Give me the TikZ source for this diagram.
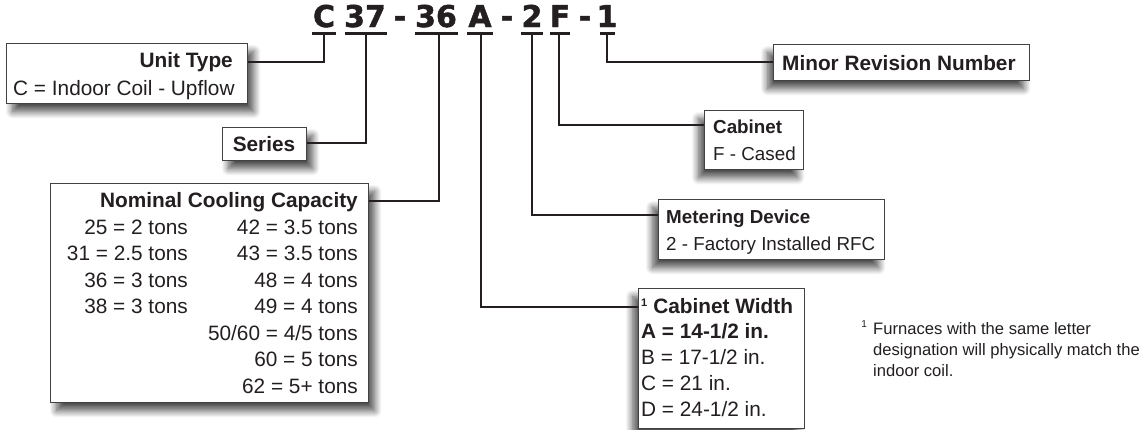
\documentclass[tikz,border=0pt]{standalone}
\usepackage{fontspec}
\setmainfont{Liberation Sans}
\newfontfamily\hdrfont[FakeBold=1.6]{DejaVu Sans Bold}
\usetikzlibrary{shadows.blur,calc}
\definecolor{ink}{HTML}{231F20}
\begin{document}
\begin{tikzpicture}[x=1pt,y=-1pt,
  box/.style={draw=ink!85, line width=1.3pt, fill=white, inner sep=0pt, anchor=north west},
  lshadow/.style={blur shadow={shadow xshift=6pt, shadow yshift=-8pt, shadow blur radius=7pt, shadow blur steps=12, shadow opacity=70}},
  rshadow/.style={blur shadow={shadow xshift=-6pt, shadow yshift=-8pt, shadow blur radius=7pt, shadow blur steps=12, shadow opacity=70}},
  conn/.style={draw=ink, line width=2.6pt},
  uline/.style={draw=ink, line width=3pt},
  lbl/.style={inner sep=0pt, text=ink, font=\fontsize{20.8}{26}\selectfont},
  blbl/.style={lbl, font=\fontsize{20.8}{26}\selectfont\bfseries},
  slbl/.style={inner sep=0pt, text=ink, font=\fontsize{18.8}{24}\selectfont},
  sblbl/.style={slbl, font=\fontsize{18.8}{24}\selectfont\bfseries},
  note/.style={inner sep=0pt, text=ink, anchor=base west, font=\fontsize{16.6}{20}\selectfont},
  hdr/.style={inner sep=0pt, anchor=base, text=ink, font=\hdrfont\fontsize{30}{30}\selectfont},
]
\useasboundingbox (0,0) rectangle (1147,429);

% header code
\node[hdr] (hC)  at (324,27) {C};
\node[hdr] (h37) at (365,27) {37};
\node[hdr] (hd1) at (400,27) {-};
\node[hdr] (h36) at (436,27) {36};
\node[hdr] (hA)  at (480,27) {A};
\node[hdr] (hd2) at (507,27) {-};
\node[hdr] (h2)  at (532,27) {2};
\node[hdr] (hF)  at (560,27) {F};
\node[hdr] (hd3) at (585,27) {-};
\node[hdr] (h1)  at (607,27) {1};

\draw[uline] (312,33) -- (336,33);
\draw[uline] (345,33) -- (387,33);
\draw[uline] (415,33) -- (458,33);
\draw[uline] (467,33) -- (493,33);
\draw[uline] (521,33) -- (543,33);
\draw[uline] (550,33) -- (570,33);
\draw[uline] (600,33) -- (615,33);

\coordinate (tC)  at (324,33);
\coordinate (t37) at (366,33);
\coordinate (t36) at (439,33);
\coordinate (tA)  at (481,33);
\coordinate (t2)  at (532,33);
\coordinate (tF)  at (559,33);
\coordinate (t1)  at (607,33);

% boxes
\node[box, lshadow, minimum width=241pt, minimum height=60pt] (ut) at (6,43) {};
\node[box, lshadow, minimum width=84pt, minimum height=33pt] (ser) at (222,127) {};
\node[box, lshadow, minimum width=318pt, minimum height=219pt] (nom) at (50,183) {};
\node[box, rshadow, minimum width=256pt, minimum height=36pt] (mrn) at (773,44) {};
\node[box, rshadow, minimum width=99pt, minimum height=59pt] (cab) at (704,110) {};
\node[box, rshadow, minimum width=226pt, minimum height=60pt] (met) at (658,199) {};
\node[box, rshadow, minimum width=166pt, minimum height=140pt] (cw) at (638,288) {};

% connectors
\draw[conn] (tC)  |- ($(ut.north east)+(0,19)$);
\draw[conn] (t37) |- ($(ser.north east)+(0,16)$);
\draw[conn] (t36) |- ($(nom.north east)+(0,18)$);
\draw[conn] (tA)  |- ($(cw.north west)+(0,19)$);
\draw[conn] (t2)  |- ($(met.north west)+(0,16)$);
\draw[conn] (tF)  |- ($(cab.north west)+(0,15)$);
\draw[conn] (t1)  |- ($(mrn.north west)+(0,18)$);

% Unit Type
\node[blbl, anchor=base east] (utT) at (233,67) {Unit Type};
\node[lbl, anchor=base west] (utL) at (13,95) {C = Indoor Coil - Upflow};

% Series
\node[blbl, anchor=base] (serT) at (264,151) {Series};

% Nominal Cooling Capacity
\node[blbl, anchor=base east] (nomT) at (358,207) {Nominal Cooling Capacity};
\foreach \t [count=\i] in {25 = 2 tons, 31 = 2.5 tons, 36 = 3 tons, 38 = 3 tons}
  \node[lbl, anchor=base east] (nl\i) at (188,{234+26.5*(\i-1)}) {\t};
\foreach \t [count=\i] in {42 = 3.5 tons, 43 = 3.5 tons, 48 = 4 tons, 49 = 4 tons, 50/60 = 4/5 tons, 60 = 5 tons, 62 = 5+ tons}
  \node[lbl, anchor=base east] (nr\i) at (358,{234+26.5*(\i-1)}) {\t};

% Minor Revision Number
\node[blbl, anchor=base west] (mrnT) at (782,70) {Minor Revision Number};

% Cabinet
\node[sblbl, anchor=base west] (cabT) at (713,133) {Cabinet};
\node[slbl, anchor=base west] (cabL) at (713,160) {F - Cased};

% Metering Device
\node[sblbl, anchor=base west] (metT) at (666,223) {Metering Device};
\node[slbl, anchor=base west] (metL) at (666,250) {2 - Factory Installed RFC};

% Cabinet Width
\node[blbl, anchor=base west] (cwT) at (641,313) {{\fontsize{11}{11}\selectfont\raisebox{7pt}{1}}\hspace{6pt}Cabinet Width};
\node[blbl, anchor=base west] (cwA) at (641,338) {A = 14-1/2 in.};
\node[lbl, anchor=base west] (cwB) at (641,364) {B = 17-1/2 in.};
\node[lbl, anchor=base west] (cwC) at (641,390) {C = 21 in.};
\node[lbl, anchor=base west] (cwD) at (641,416) {D = 24-1/2 in.};

% footnote
\node[note, anchor=base east, font=\fontsize{10}{10}\selectfont] (fn0) at (867,327) {1};
\node[note] (fn1) at (873,334) {Furnaces with the same letter};
\node[note] (fn2) at (873,355) {designation will physically match the};
\node[note] (fn3) at (873,376) {indoor coil.};
\end{tikzpicture}
\end{document}
